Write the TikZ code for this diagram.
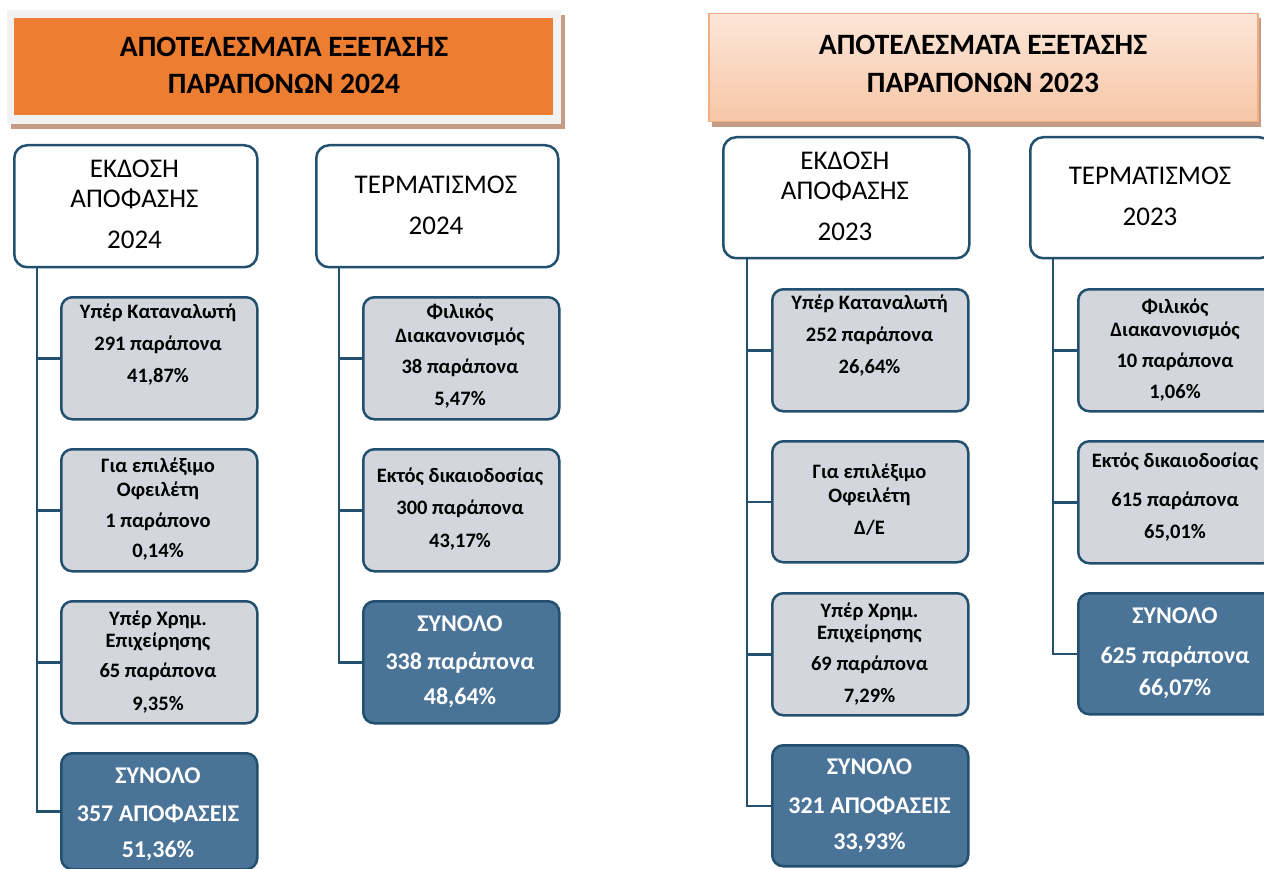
\documentclass[tikz,border=0pt]{standalone}
\usepackage{fontspec}
\setmainfont{Carlito}
\usetikzlibrary{calc}
\definecolor{bord}{HTML}{23506F}
\definecolor{subfill}{HTML}{D3D6DC}
\definecolor{totfill}{HTML}{4A7398}
\definecolor{orangeT}{HTML}{ED7D31}
\definecolor{frameT}{HTML}{F2F2F2}
\definecolor{shadowT}{HTML}{C49C86}
\definecolor{peachTop}{HTML}{FCE6D8}
\definecolor{peachBot}{HTML}{F7C6A6}
\definecolor{peachBord}{HTML}{F2AE80}
\tikzset{
  headbox/.style={draw=bord, line width=2.5pt, rounded corners=13pt, fill=white, inner sep=0pt, anchor=north west},
  subbox/.style={draw=bord, line width=2.5pt, rounded corners=11pt, fill=subfill, inner sep=0pt, anchor=north west, minimum width=196pt, minimum height=122pt},
  totbox/.style={draw=bord, line width=2.5pt, rounded corners=11pt, fill=totfill, inner sep=0pt, anchor=north west, minimum width=196pt, minimum height=122pt},
  conn/.style={draw=bord, line width=2.5pt},
  ttxt/.style={anchor=base, inner sep=0pt, font=\fontsize{29.5}{33}\selectfont\bfseries},
  htxt/.style={anchor=base, inner sep=0pt, font=\fontsize{27}{31}\selectfont},
  stxt/.style={anchor=base, inner sep=0pt, font=\fontsize{20.5}{24}\selectfont\bfseries},
  totxt/.style={anchor=base, inner sep=0pt, text=white, font=\fontsize{24}{28}\selectfont\bfseries}
}
\begin{document}
\begin{tikzpicture}[x=1pt,y=-1pt]
\useasboundingbox (0,0) rectangle (1264,869);
\clip (0,0) rectangle (1264,869);
\fill[white] (0,0) rectangle (1264,869);

% ---------- titles ----------
\fill[shadowT] (11,15) rectangle (565,129);
\fill[frameT] (7,10) rectangle (561,124);
\node[fill=orangeT, inner sep=0pt, minimum width=539pt, minimum height=97pt, anchor=north west] (title24) at (14,18) {};
\node[ttxt] at (284,57) {ΑΠΟΤΕΛΕΣΜΑΤΑ ΕΞΕΤΑΣΗΣ};
\node[ttxt] at (284,94) {ΠΑΡΑΠΟΝΩΝ 2024};

\fill[shadowT] (712,18) rectangle (1261,127);
\node[top color=peachTop, bottom color=peachBot, draw=peachBord, line width=1.5pt, inner sep=0pt, minimum width=549pt, minimum height=108pt, anchor=north west] (title23) at (708,13) {};
\node[ttxt] at (983,55) {ΑΠΟΤΕΛΕΣΜΑΤΑ ΕΞΕΤΑΣΗΣ};
\node[ttxt] at (983,93) {ΠΑΡΑΠΟΝΩΝ 2023};

% ---------- 2024 ----------
\node[headbox, minimum width=243pt, minimum height=122pt] (h1) at (13,144) {};
\node[htxt] at (134.5,178) {ΕΚΔΟΣΗ};
\node[htxt] at (134.5,208) {ΑΠΟΦΑΣΗΣ};
\node[htxt] at (134.5,248) {2024};

\node[headbox, minimum width=242pt, minimum height=122pt] (h2) at (315,144) {};
\node[htxt] at (436,194) {ΤΕΡΜΑΤΙΣΜΟΣ};
\node[htxt] at (436,235) {2024};

\coordinate (r1) at (37,266);
\coordinate (r2) at (339,266);

\node[subbox] (a1) at (60,296) {};
\node[stxt] at (158,318) {Υπέρ Καταναλωτή};
\node[stxt] at (158,350) {291 παράπονα};
\node[stxt] at (158,382) {41,87\%};

\node[subbox] (a2) at (60,448) {};
\node[stxt] at (158,472) {Για επιλέξιμο};
\node[stxt] at (158,496) {Οφειλέτη};
\node[stxt] at (158,527) {1 παράπονο};
\node[stxt] at (158,557) {0,14\%};

\node[subbox] (a3) at (60,600) {};
\node[stxt] at (158,625) {Υπέρ Χρημ.};
\node[stxt] at (158,647) {Επιχείρησης};
\node[stxt] at (158,677) {65 παράπονα};
\node[stxt] at (158,710) {9,35\%};

\node[totbox, minimum height=116pt] (a4) at (60,752) {};
\node[totxt] at (158,783) {ΣΥΝΟΛΟ};
\node[totxt] at (158,821) {357 ΑΠΟΦΑΣΕΙΣ};
\node[totxt] at (158,857) {51,36\%};

\node[subbox] (b1) at (362,296) {};
\node[stxt] at (460,318) {Φιλικός};
\node[stxt] at (460,342) {Διακανονισμός};
\node[stxt] at (460,373) {38 παράπονα};
\node[stxt] at (460,405) {5,47\%};

\node[subbox] (b2) at (362,448) {};
\node[stxt] at (460,482) {Εκτός δικαιοδοσίας};
\node[stxt] at (460,514) {300 παράπονα};
\node[stxt] at (460,547) {43,17\%};

\node[totbox] (b3) at (362,600) {};
\node[totxt] at (460,631) {ΣΥΝΟΛΟ};
\node[totxt] at (460,669) {338 παράπονα};
\node[totxt] at (460,704) {48,64\%};

\draw[conn] (r1) |- (a1.west);
\draw[conn] (r1) |- (a2.west);
\draw[conn] (r1) |- (a3.west);
\draw[conn] (r1) |- (a4.west);
\draw[conn] (r2) |- (b1.west);
\draw[conn] (r2) |- (b2.west);
\draw[conn] (r2) |- (b3.west);

% ---------- 2023 ----------
\node[headbox, minimum width=246pt, minimum height=121pt] (h3) at (722,136) {};
\node[htxt] at (845,170) {ΕΚΔΟΣΗ};
\node[htxt] at (845,200) {ΑΠΟΦΑΣΗΣ};
\node[htxt] at (845,241) {2023};

\node[headbox, minimum width=242pt, minimum height=121pt] (h4) at (1029,136) {};
\node[htxt] at (1150,185) {ΤΕΡΜΑΤΙΣΜΟΣ};
\node[htxt] at (1150,226) {2023};

\coordinate (r3) at (747,257);
\coordinate (r4) at (1053,257);

\node[subbox] (c1) at (771,288) {};
\node[stxt] at (869.5,309) {Υπέρ Καταναλωτή};
\node[stxt] at (869.5,341) {252 παράπονα};
\node[stxt] at (869.5,373) {26,64\%};

\node[subbox, minimum height=121pt] (c2) at (771,440) {};
\node[stxt] at (869.5,478) {Για επιλέξιμο};
\node[stxt] at (869.5,502) {Οφειλέτη};
\node[stxt] at (869.5,534) {Δ/Ε};

\node[subbox] (c3) at (771,592) {};
\node[stxt] at (869.5,617) {Υπέρ Χρημ.};
\node[stxt] at (869.5,639) {Επιχείρησης};
\node[stxt] at (869.5,670) {69 παράπονα};
\node[stxt] at (869.5,702) {7,29\%};

\node[totbox, minimum height=121pt] (c4) at (771,744) {};
\node[totxt] at (869.5,774) {ΣΥΝΟΛΟ};
\node[totxt] at (869.5,813) {321 ΑΠΟΦΑΣΕΙΣ};
\node[totxt] at (869.5,849) {33,93\%};

\node[subbox] (d1) at (1077,288) {};
\node[stxt] at (1175,313) {Φιλικός};
\node[stxt] at (1175,336) {Διακανονισμός};
\node[stxt] at (1175,367) {10 παράπονα};
\node[stxt] at (1175,398) {1,06\%};

\node[subbox] (d2) at (1077,440) {};
\node[stxt] at (1175,467) {Εκτός δικαιοδοσίας};
\node[stxt] at (1175,506) {615 παράπονα};
\node[stxt] at (1175,538) {65,01\%};

\node[totbox, minimum height=121pt] (d3) at (1077,592) {};
\node[totxt] at (1175,623) {ΣΥΝΟΛΟ};
\node[totxt] at (1175,663) {625 παράπονα};
\node[totxt] at (1175,695) {66,07\%};

\draw[conn] (r3) |- (c1.west);
\draw[conn] (r3) |- (c2.west);
\draw[conn] (r3) |- (c3.west);
\draw[conn] (r3) |- (c4.west);
\draw[conn] (r4) |- (d1.west);
\draw[conn] (r4) |- (d2.west);
\draw[conn] (r4) |- (d3.west);
\end{tikzpicture}
\end{document}
